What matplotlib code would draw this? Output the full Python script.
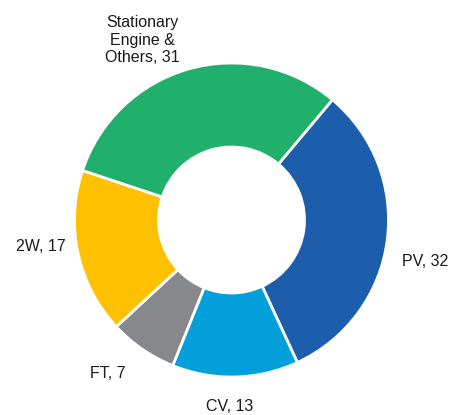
import matplotlib
matplotlib.use('Agg')
import matplotlib.pyplot as plt

# データ
labels = ['PV', 'CV', 'FT', '2W', 'Stationary\nEngine &\nOthers']
values = [32, 13, 7, 17, 31]
colors = ['#1C5EAC', '#039FDB', '#87888C', '#FFC000', '#21B06B']

# ラベル位置 (データ座標, 半径=1)
label_pos = {
    'PV': (1.236, -0.264),
    'CV': (-0.01, -1.191),
    'FT': (-0.787, -0.978),
    '2W': (-1.213, -0.166),
    'Stationary\nEngine &\nOthers': (-0.57, 1.146),
}

plt.rcParams['font.family'] = ['Liberation Sans', 'DejaVu Sans']

fig = plt.figure(figsize=(4.63, 4.15), dpi=100)
ax = fig.add_axes([0, 0, 1, 1])

ax.pie(values, colors=colors, startangle=50, counterclock=False,
       radius=1.0,
       wedgeprops=dict(width=0.535, edgecolor='white', linewidth=2))

for lab, val in zip(labels, values):
    x, y = label_pos[lab]
    ax.text(x, y, f'{lab}, {val}', ha='center', va='center',
            fontsize=11.5, color='#1a1a1a')

# 中心 (231.5, 220) px, 半径 157 px
cx, cy, r = 231.5, 220, 157
ax.set_xlim(-cx / r, (463 - cx) / r)
ax.set_ylim(-(415 - cy) / r, cy / r)
ax.set_aspect('auto')
ax.axis('off')

plt.savefig('out.png', dpi=100)
